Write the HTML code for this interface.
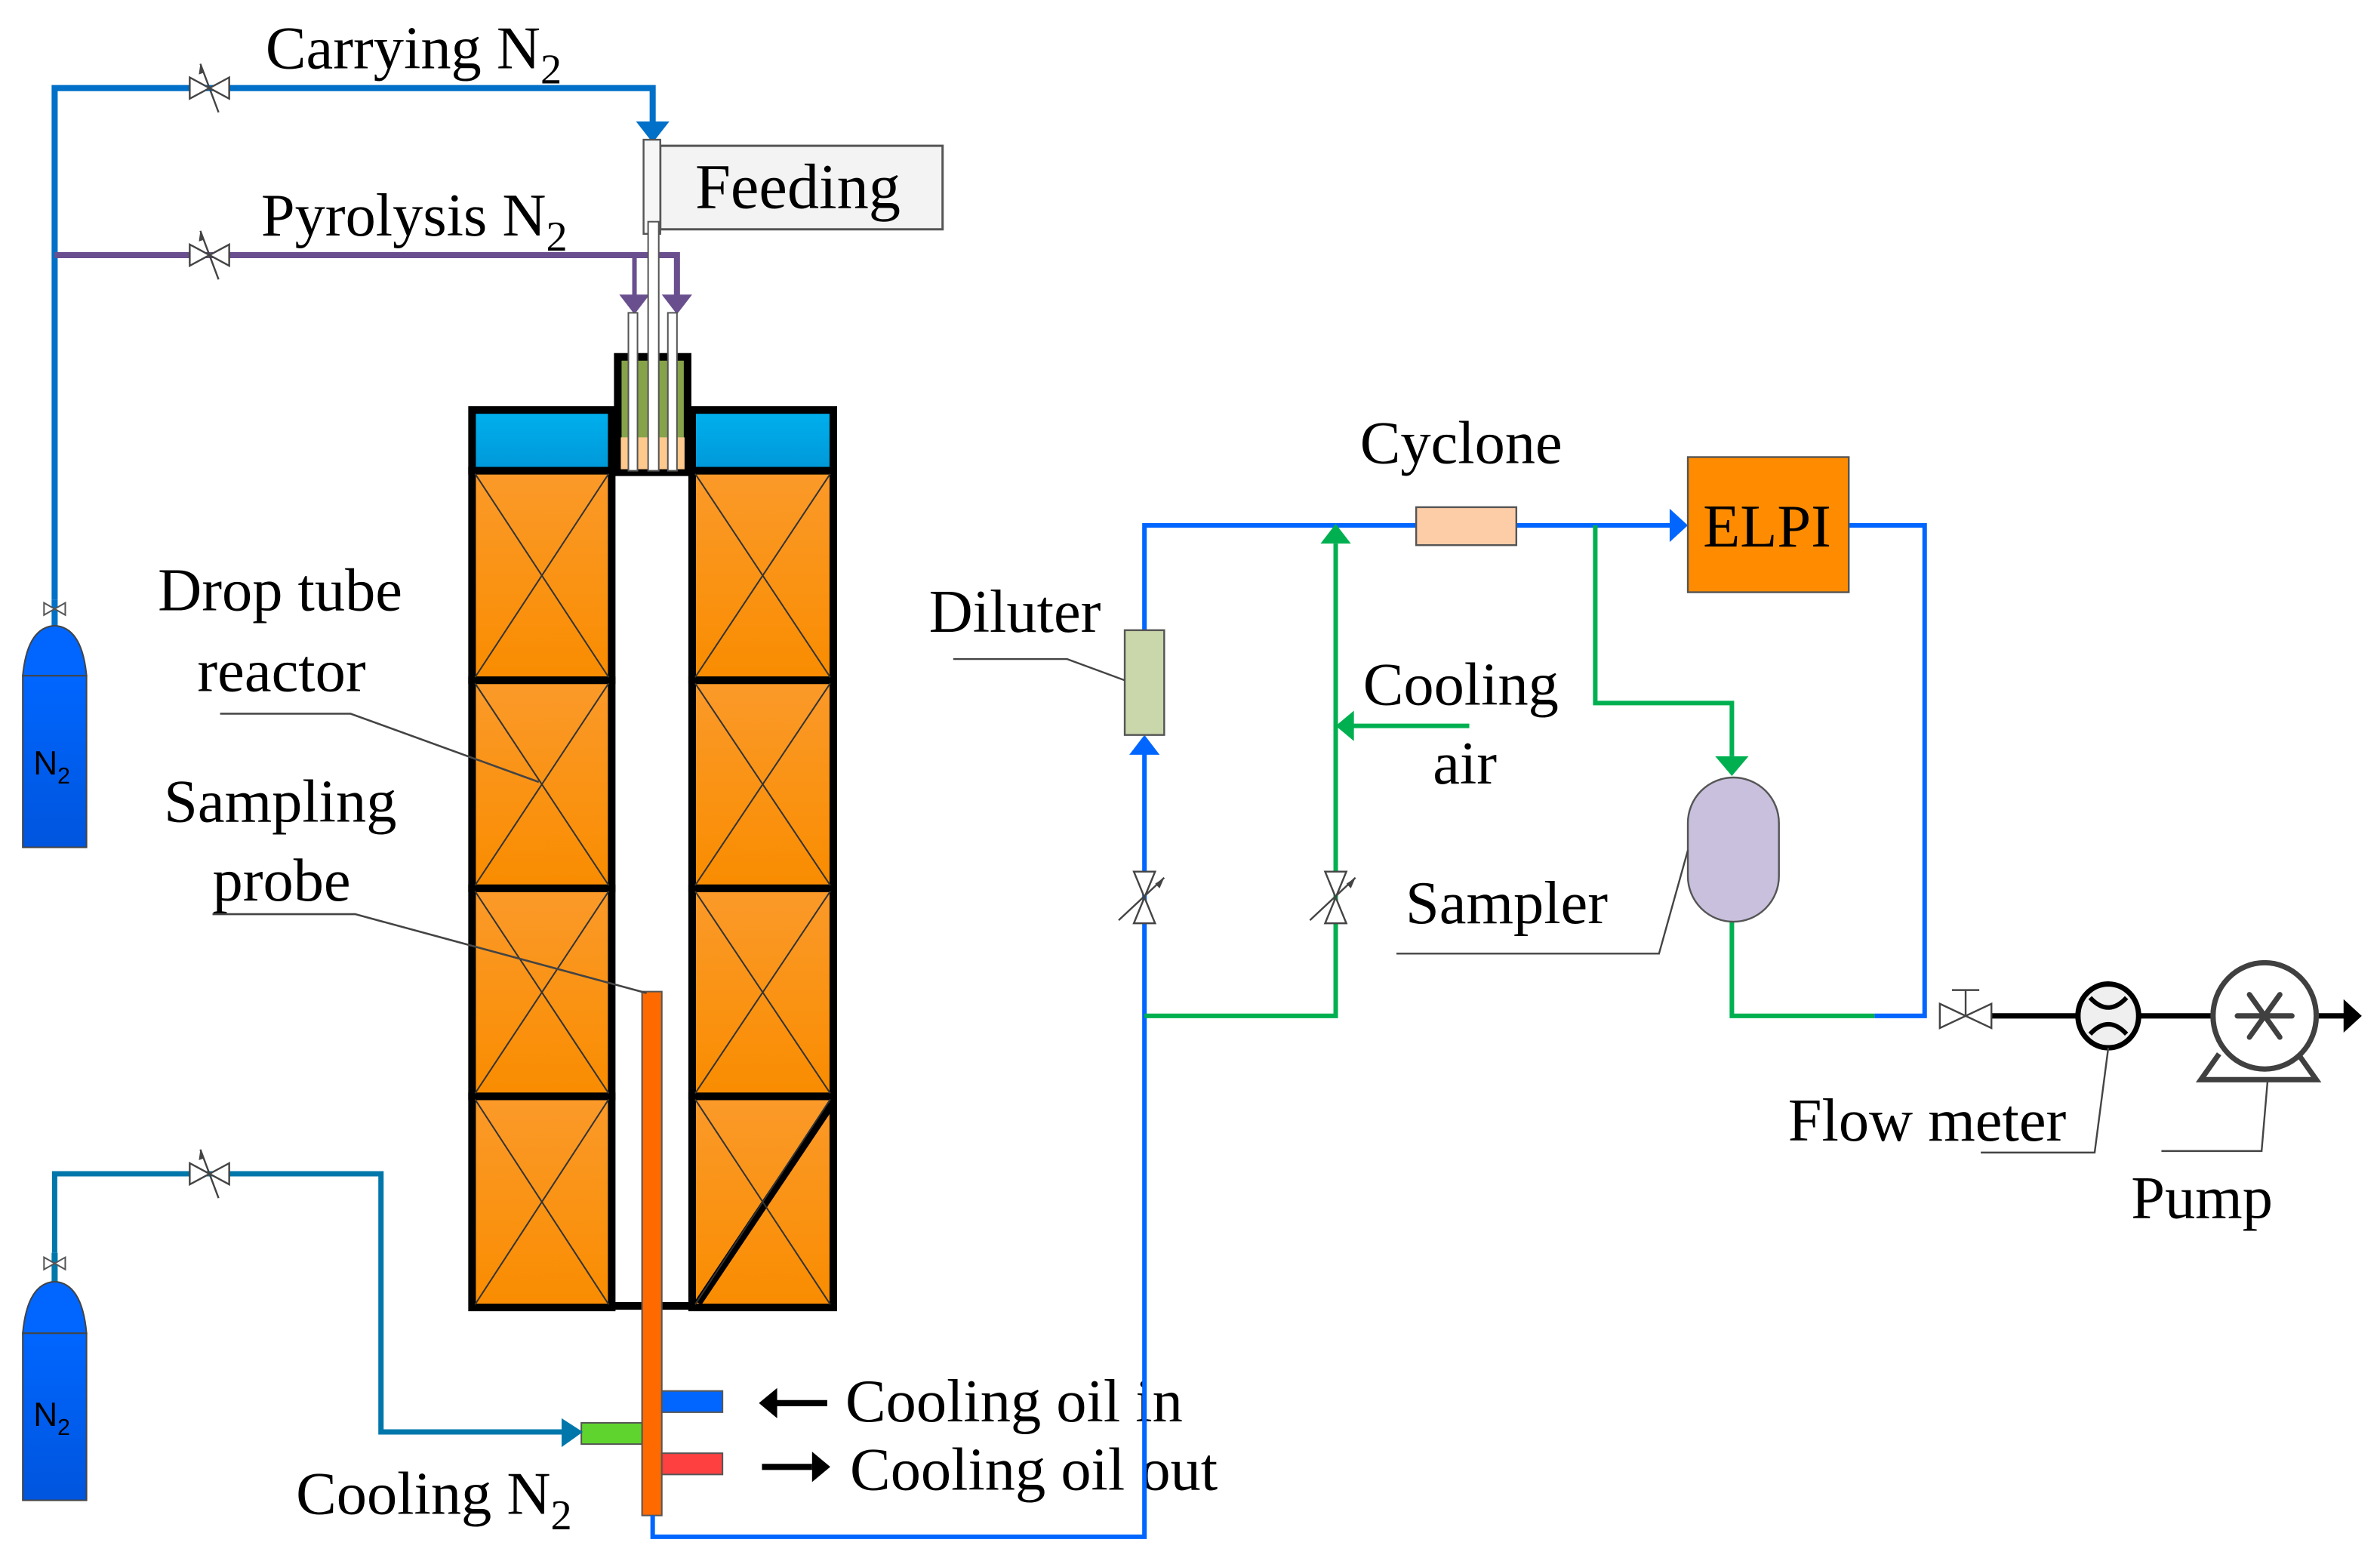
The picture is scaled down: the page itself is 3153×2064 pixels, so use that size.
<!DOCTYPE html>
<html><head><meta charset="utf-8"><style>
html,body{margin:0;padding:0;background:#fff;}
svg{display:block;}
text{font-family:"Liberation Serif",serif;fill:#000;}
</style></head><body>
<svg width="3153" height="2064" viewBox="0 0 1568 1026" preserveAspectRatio="none" xmlns="http://www.w3.org/2000/svg">
<defs>
<linearGradient id="og" x1="0" y1="0" x2="0" y2="1"><stop offset="0" stop-color="#fb9a2a"/><stop offset="1" stop-color="#f98c00"/></linearGradient>
<linearGradient id="bg" x1="0" y1="0" x2="0" y2="1"><stop offset="0" stop-color="#00b0ee"/><stop offset="1" stop-color="#0098d8"/></linearGradient>
<linearGradient id="cyl" x1="0" y1="0" x2="0" y2="1"><stop offset="0" stop-color="#0066ff"/><stop offset="1" stop-color="#0055dd"/></linearGradient>
<g id="valve"><path d="M-13,-7 L13,7 L13,-7 L-13,7 Z" fill="#fff" stroke="#444" stroke-width="1.2"/><line x1="-6" y1="-16" x2="6" y2="16" stroke="#444" stroke-width="1.2"/><path d="M-6,-16 L-7,-9 L-4,-10 Z" fill="#444"/></g>
<g id="vvalve"><path d="M-7,-17 L7,17 L-7,17 L7,-17 Z" fill="#fff" stroke="#444" stroke-width="1.2"/><line x1="-17" y1="15" x2="13" y2="-13" stroke="#444" stroke-width="1.2"/><path d="M13,-13 L7,-9 L10,-6 Z" fill="#444"/></g>
</defs>

<polyline points="36,395 36,58 430,58 430,82" fill="none" stroke="#0070c8" stroke-width="4"/>
<path d="M419,80 L441,80 L430,94 Z" fill="#0070c8"/>
<use href="#valve" x="138" y="58"/>
<polyline points="36,168 446,168 446,196" fill="none" stroke="#6a4f8f" stroke-width="4"/>
<line x1="418" y1="168" x2="418" y2="196" stroke="#6a4f8f" stroke-width="3"/>
<path d="M408,194 L428,194 L418,207 Z M436,194 L456,194 L446,207 Z" fill="#6a4f8f"/>
<use href="#valve" x="138" y="168"/>
<text x="175" y="45" font-size="40">Carrying N<tspan font-size="28" dy="10">2</tspan></text>
<text x="172" y="155" font-size="40">Pyrolysis N<tspan font-size="28" dy="10">2</tspan></text>

<rect x="435" y="96" width="186" height="55" fill="#f3f3f3" stroke="#555" stroke-width="1.5"/>
<text x="458" y="137" font-size="42">Feeding</text>
<rect x="424" y="92" width="11" height="62" fill="#f6f6f6" stroke="#555" stroke-width="1.2"/>

<rect x="407" y="235" width="46" height="76" fill="#86a34a" stroke="#000" stroke-width="5"/>
<rect x="409" y="288" width="42" height="21" fill="#ffc98e"/>
<rect x="414" y="206" width="6" height="104" fill="#fff" stroke="#555" stroke-width="1"/>
<rect x="440" y="206" width="6" height="104" fill="#fff" stroke="#555" stroke-width="1"/>
<rect x="427" y="146" width="7" height="164" fill="#fff" stroke="#555" stroke-width="1"/>

<g stroke="#000" stroke-width="5">
<rect x="311" y="270" width="92" height="40" fill="url(#bg)"/>
<rect x="456" y="270" width="93" height="40" fill="url(#bg)"/>
<rect x="311" y="310" width="92" height="138" fill="url(#og)"/>
<rect x="311" y="448" width="92" height="137" fill="url(#og)"/>
<rect x="311" y="585" width="92" height="137" fill="url(#og)"/>
<rect x="311" y="722" width="92" height="139" fill="url(#og)"/>
<rect x="456" y="310" width="93" height="138" fill="url(#og)"/>
<rect x="456" y="448" width="93" height="137" fill="url(#og)"/>
<rect x="456" y="585" width="93" height="137" fill="url(#og)"/>
<rect x="456" y="722" width="93" height="139" fill="url(#og)"/>
<line x1="403" y1="860" x2="456" y2="860"/>
<line x1="548" y1="727" x2="460" y2="858"/>
</g>
<g stroke="#333" stroke-width="1" fill="none">
<path d="M313,312 L401,446 M401,312 L313,446 M313,450 L401,583 M401,450 L313,583 M313,587 L401,720 M401,587 L313,720 M313,724 L401,859 M401,724 L313,859"/>
<path d="M458,312 L547,446 M547,312 L458,446 M458,450 L547,583 M547,450 L458,583 M458,587 L547,720 M547,587 L458,720 M458,724 L547,859 M547,724 L458,859"/>
</g>

<rect x="423" y="653" width="13" height="345" fill="#ff6a00" stroke="#555" stroke-width="1"/>
<rect x="383" y="937" width="40" height="14" fill="#5fd42e" stroke="#555" stroke-width="1"/>
<rect x="436" y="916" width="40" height="14" fill="#0066ff" stroke="#555" stroke-width="1"/>
<rect x="436" y="957" width="40" height="14" fill="#ff4040" stroke="#555" stroke-width="1"/>
<text x="104" y="402" font-size="40">Drop tube</text>
<text x="130" y="455" font-size="40">reactor</text>
<text x="108" y="541" font-size="40">Sampling</text>
<text x="140" y="593" font-size="40">probe</text>
<polyline points="145,470 231,470 355,515" fill="none" stroke="#444" stroke-width="1.3"/>
<polyline points="140,602 234,602 426,654" fill="none" stroke="#444" stroke-width="1.3"/>

<line x1="505" y1="924" x2="545" y2="924" stroke="#000" stroke-width="4"/>
<path d="M500,924 L512,914 L512,934 Z" fill="#000"/>
<line x1="502" y1="966" x2="535" y2="966" stroke="#000" stroke-width="4"/>
<path d="M547,966 L535,956 L535,976 Z" fill="#000"/>
<text x="557" y="936" font-size="40">Cooling oil in</text>
<text x="560" y="981" font-size="40">Cooling oil out</text>

<polyline points="36,825 36,773 251,773 251,943 372,943" fill="none" stroke="#0077aa" stroke-width="3.5"/>
<path d="M370,934 L384,943 L370,953 Z" fill="#0077aa"/>
<use href="#valve" x="138" y="773"/>
<text x="195" y="997" font-size="40">Cooling N<tspan font-size="28" dy="10">2</tspan></text>

<g>
<line x1="36" y1="395" x2="36" y2="420" stroke="#0070c8" stroke-width="4"/>
<path d="M29,397 L43,405 L43,397 L29,405 Z" fill="#fff" stroke="#555" stroke-width="1"/>
<path d="M15,445 Q18,413 36,412 Q54,413 57,445 Z" fill="#0066ff" stroke="#444" stroke-width="1"/>
<rect x="15" y="445" width="42" height="113" fill="url(#cyl)" stroke="#444" stroke-width="1"/>
<text x="22" y="510" font-size="22" style="font-family:'Liberation Sans',sans-serif">N<tspan font-size="15" dy="6">2</tspan></text>
</g>
<g>
<line x1="36" y1="825" x2="36" y2="850" stroke="#0077aa" stroke-width="4"/>
<path d="M29,828 L43,836 L43,828 L29,836 Z" fill="#fff" stroke="#555" stroke-width="1"/>
<path d="M15,878 Q18,845 36,844 Q54,845 57,878 Z" fill="#0066ff" stroke="#444" stroke-width="1"/>
<rect x="15" y="878" width="42" height="110" fill="url(#cyl)" stroke="#444" stroke-width="1"/>
<text x="22" y="939" font-size="22" style="font-family:'Liberation Sans',sans-serif">N<tspan font-size="15" dy="6">2</tspan></text>
</g>

<polyline points="430,998 430,1012 754,1012 754,494" fill="none" stroke="#0066ff" stroke-width="3"/>
<path d="M744,497 L764,497 L754,484 Z" fill="#0066ff"/>
<polyline points="754,415 754,346 933,346" fill="none" stroke="#0066ff" stroke-width="3"/>
<polyline points="999,346 1102,346" fill="none" stroke="#0066ff" stroke-width="3"/>
<path d="M1100,335 L1112,346 L1100,357 Z" fill="#0066ff"/>
<polyline points="1218,346 1268,346 1268,669 1235,669" fill="none" stroke="#0066ff" stroke-width="3"/>
<polyline points="1235,669 1141,669 1141,607" fill="none" stroke="#00b050" stroke-width="3"/>
<polyline points="1051,346 1051,463 1141,463 1141,498" fill="none" stroke="#00b050" stroke-width="3"/>
<path d="M1130,498 L1152,498 L1141,511 Z" fill="#00b050"/>
<polyline points="754,669 880,669 880,358" fill="none" stroke="#00b050" stroke-width="3"/>
<path d="M870,358 L890,358 L880,345 Z" fill="#00b050"/>
<line x1="890" y1="478" x2="968" y2="478" stroke="#00b050" stroke-width="3"/>
<path d="M892,468 L892,488 L880,478 Z" fill="#00b050"/>
<use href="#vvalve" x="754" y="591"/>
<use href="#vvalve" x="880" y="591"/>

<rect x="741" y="415" width="26" height="69" fill="#c9d7aa" stroke="#555" stroke-width="1.2"/>
<rect x="933" y="334" width="66" height="25" fill="#fdcda8" stroke="#555" stroke-width="1.2"/>
<rect x="1112" y="301" width="106" height="89" fill="#ff8c00" stroke="#555" stroke-width="1.2"/>
<text x="1122" y="360" font-size="40">ELPI</text>
<rect x="1112" y="512" width="60" height="95" rx="30" ry="30" fill="#c8c0dc" stroke="#555" stroke-width="1.2"/>

<text x="612" y="416" font-size="40">Diluter</text>
<polyline points="628,434 703,434 741,448" fill="none" stroke="#444" stroke-width="1.2"/>
<text x="896" y="305" font-size="40">Cyclone</text>
<text x="898" y="464" font-size="40">Cooling</text>
<text x="944" y="516" font-size="40">air</text>
<text x="926" y="608" font-size="40">Sampler</text>
<polyline points="920,628 1093,628 1112,560" fill="none" stroke="#444" stroke-width="1.2"/>

<line x1="1308" y1="669" x2="1545" y2="669" stroke="#000" stroke-width="3.5"/>
<path d="M1544,658 L1556,669 L1544,680 Z" fill="#000"/>
<path d="M1278,661 L1312,677 L1312,661 L1278,677 Z" fill="#fff" stroke="#444" stroke-width="1.2"/>
<line x1="1295" y1="669" x2="1295" y2="652" stroke="#444" stroke-width="1.2"/>
<line x1="1286" y1="652" x2="1304" y2="652" stroke="#444" stroke-width="1.2"/>
<ellipse cx="1389" cy="669" rx="20" ry="21" fill="#efefef" stroke="#000" stroke-width="3.5"/>
<path d="M1377,657 Q1389,670 1401,657 M1377,681 Q1389,668 1401,681" fill="none" stroke="#000" stroke-width="3"/>
<path d="M1462,694 L1450,711 L1526,711 L1514,694" fill="none" stroke="#404040" stroke-width="3.5"/>
<ellipse cx="1492" cy="669" rx="34" ry="35" fill="#fff" stroke="#404040" stroke-width="3.5"/>
<path d="M1474,669 L1510,669 M1482,655 L1502,683 M1502,655 L1482,683" stroke="#404040" stroke-width="3.5" stroke-linecap="round"/>
<text x="1178" y="751" font-size="40">Flow meter</text>
<polyline points="1305,759 1380,759 1389,690" fill="none" stroke="#444" stroke-width="1.2"/>
<text x="1404" y="802" font-size="40">Pump</text>
<polyline points="1424,758 1490,758 1494,711" fill="none" stroke="#444" stroke-width="1.2"/>
</svg>
</body></html>
